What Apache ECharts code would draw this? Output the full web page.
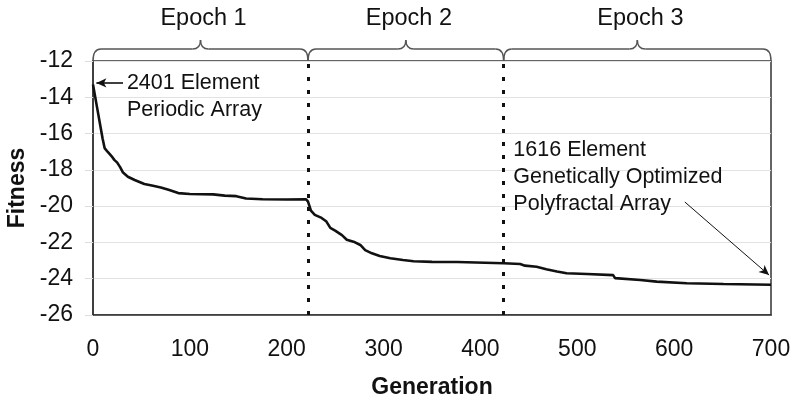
<!DOCTYPE html>
<html>
<head>
<meta charset="utf-8">
<script src="https://cdn.jsdelivr.net/npm/echarts@6/dist/echarts.min.js"></script>
<style>
  html, body { margin: 0; padding: 0; background: #fff; }
  #main { width: 793px; height: 401px; }
</style>
</head>
<body>
<div id="main"></div>
<script>
// fitness curve
const generations = [
  0, 2, 4, 7, 10, 12, 15, 17, 20, 22, 25, 28, 31, 36, 43, 53, 62, 70, 78, 88,
  100, 124, 136, 148, 158, 175, 200, 220, 222, 225, 229, 236, 241, 245, 250,
  257, 262, 269, 276, 281, 288, 296, 307, 320, 331, 350, 376, 378, 424, 441,
  446, 458, 468, 479, 489, 510, 537, 539, 565, 582, 613, 651, 700
];
const fitness = [
  -13.3, -13.9, -14.5, -15.4, -16.3, -16.8, -17.0, -17.1, -17.3, -17.45, -17.6,
  -17.85, -18.15, -18.38, -18.56, -18.78, -18.88, -18.97, -19.1, -19.28,
  -19.33, -19.35, -19.42, -19.45, -19.58, -19.62, -19.63, -19.62, -19.75,
  -20.25, -20.48, -20.65, -20.85, -21.2, -21.35, -21.6, -21.85, -21.96,
  -22.14, -22.42, -22.6, -22.75, -22.87, -22.97, -23.04, -23.07, -23.08,
  -23.14, -23.15, -23.19, -23.28, -23.34, -23.48, -23.6, -23.7, -23.74,
  -23.8, -23.97, -24.07, -24.16, -24.25, -24.29, -24.33
];
const epochNames = ['Epoch 1', 'Epoch 2', 'Epoch 3'];
const epochBounds = [0, 222, 424, 700];

// annotations (data units)
const notes = [
  { lines: ['2401 Element', 'Periodic Array'], at: [35, -13.21] },
  { lines: ['1616 Element', 'Genetically Optimized', 'Polyfractal Array'], at: [434, -16.9] }
];
const arrows = [
  { from: [31, -13.21], to: [3.5, -13.21], width: 1.6 },
  { from: [611, -19.77], to: [698, -23.8], width: 1 }
];

const font = 'Liberation Sans, Arial, sans-serif';
const chart = echarts.init(document.getElementById('main'));

const lineData = generations.map((g, i) => [g, fitness[i]]);

const markData = [];
epochBounds.slice(1, -1).forEach(x => {
  markData.push({
    xAxis: x,
    lineStyle: { color: '#111', width: 3, type: [4, 9] }
  });
});
arrows.forEach(a => {
  markData.push([
    { coord: a.from, symbol: 'none', lineStyle: { color: '#111', width: a.width, type: 'solid' } },
    { coord: a.to, symbol: 'arrow', symbolSize: [7, 10] }
  ]);
});

const option = {
  backgroundColor: '#fff',
  animation: false,
  grid: {
    left: 93,
    top: 61,
    right: 22,
    bottom: 86,
    outerBoundsMode: 'none',
    containLabel: false,
    show: true,
    borderColor: '#333',
    borderWidth: 1.5
  },
  xAxis: {
    type: 'value',
    min: 0,
    max: 700,
    interval: 100,
    name: 'Generation',
    nameLocation: 'middle',
    nameGap: 61,
    nameTextStyle: { fontFamily: font, fontSize: 23, fontWeight: 'bold', color: '#111' },
    axisLine: { show: true, lineStyle: { color: '#333', width: 1.5 } },
    axisTick: { show: false },
    axisLabel: { fontFamily: font, fontSize: 23, color: '#111', margin: 23 },
    splitLine: { show: false }
  },
  yAxis: {
    type: 'value',
    min: -26,
    max: -12,
    interval: 2,
    name: 'Fitness',
    nameLocation: 'middle',
    nameRotate: 90,
    nameGap: 63,
    nameTextStyle: { fontFamily: font, fontSize: 23, fontWeight: 'bold', color: '#111' },
    axisLine: { show: true, lineStyle: { color: '#333', width: 1.5 } },
    axisTick: { show: true, length: 8, lineStyle: { color: '#ddd' } },
    axisLabel: { fontFamily: font, fontSize: 23, color: '#111', margin: 20 },
    splitLine: { show: true, lineStyle: { color: '#e2e2e2', width: 1 } }
  },
  series: [
    {
      type: 'line',
      data: lineData,
      showSymbol: false,
      symbol: 'none',
      lineStyle: { color: '#111', width: 2.6 },
      silent: true,
      markLine: {
        silent: true,
        symbol: ['none', 'none'],
        label: { show: false },
        data: markData
      }
    }
  ]
};
chart.setOption(option);

// braces, epoch titles and notes, placed through the axes
const px = (x, y) => chart.convertToPixel({ gridIndex: 0 }, [x, y]);
const graphics = [];
const topY = px(0, -12)[1];
const braceStyle = { fill: 'none', stroke: '#555', lineWidth: 1.5 };
const curve = (x1, y1, cx, cy, x2, y2) => ({
  type: 'bezierCurve',
  shape: { x1: x1, y1: y1, cpx1: cx, cpy1: cy, x2: x2, y2: y2 },
  style: braceStyle,
  silent: true
});
const seg = (x1, y1, x2, y2) => ({
  type: 'line',
  shape: { x1: x1, y1: y1, x2: x2, y2: y2 },
  style: braceStyle,
  silent: true
});
epochNames.forEach((name, i) => {
  const xa = px(epochBounds[i], -12)[0];
  const xb = px(epochBounds[i + 1], -12)[0];
  const xm = (xa + xb) / 2;
  const bar = topY - 12;
  const peak = topY - 21;
  graphics.push(curve(xa, topY, xa, bar, xa + 8, bar));
  graphics.push(seg(xa + 8, bar, xm - 8, bar));
  graphics.push(curve(xm - 8, bar, xm, bar, xm, peak));
  graphics.push(curve(xm, peak, xm, bar, xm + 8, bar));
  graphics.push(seg(xm + 8, bar, xb - 8, bar));
  graphics.push(curve(xb - 8, bar, xb, bar, xb, topY));
  graphics.push({
    type: 'text',
    x: xm + 3,
    y: 19,
    style: {
      text: name,
      font: '23.5px ' + font,
      fill: '#111',
      textAlign: 'center',
      textVerticalAlign: 'middle'
    },
    silent: true
  });
});
notes.forEach(n => {
  const p = px(n.at[0], n.at[1]);
  graphics.push({
    type: 'text',
    x: p[0],
    y: p[1] - 13.5,
    style: {
      text: n.lines.join('\n'),
      font: '21.5px ' + font,
      lineHeight: 27,
      fill: '#111',
      textAlign: 'left',
      textVerticalAlign: 'top'
    },
    silent: true
  });
});
chart.setOption({ graphic: graphics });
</script>
</body>
</html>
